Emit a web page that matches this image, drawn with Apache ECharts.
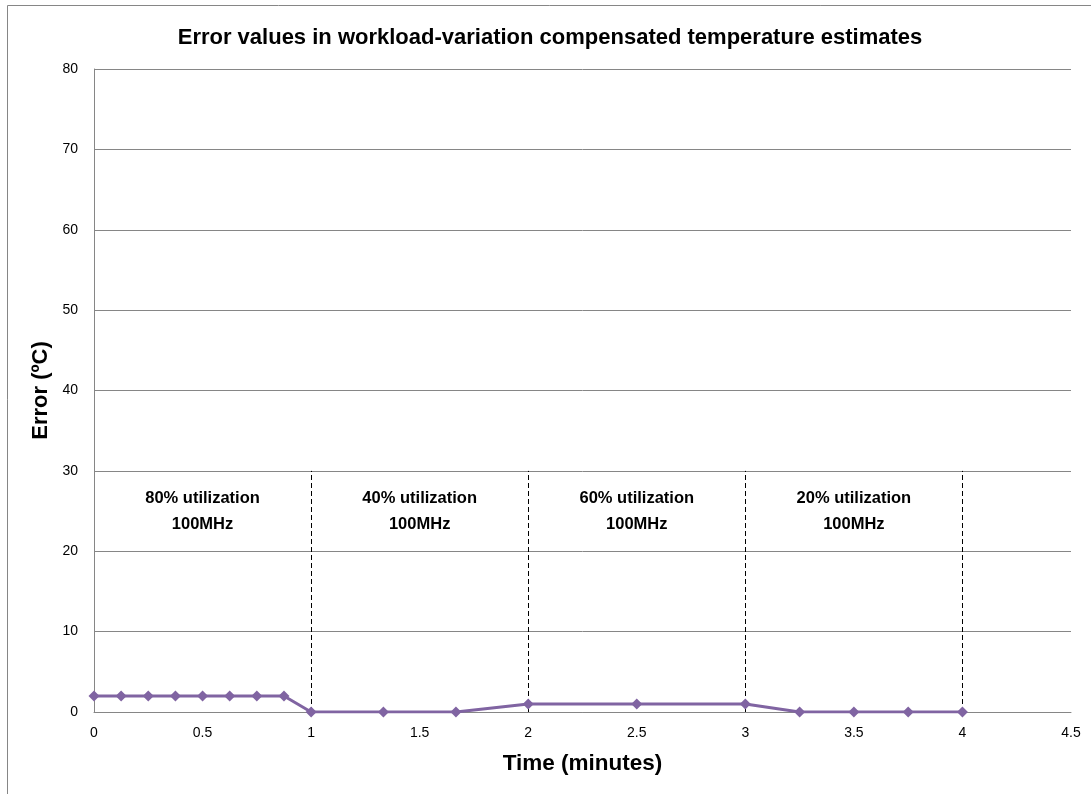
<!DOCTYPE html>
<html>
<head>
<meta charset="utf-8">
<script src="https://cdn.jsdelivr.net/npm/echarts@6/dist/echarts.min.js"></script>
<style>html,body{margin:0;padding:0;background:#fff;}#c{width:1091px;height:794px;}</style>
</head>
<body>
<div id="c"></div>
<script>
const timeMinutes = [0, 0.125, 0.25, 0.375, 0.5, 0.625, 0.75, 0.875, 1, 1.333, 1.667, 2, 2.5, 3, 3.25, 3.5, 3.75, 4];
const errorValues = [2, 2, 2, 2, 2, 2, 2, 2, 0, 0, 0, 1, 1, 1, 0, 0, 0, 0];
const phaseBoundaries = [1, 2, 3, 4];
const phaseLabels = ['80% utilization\n100MHz', '40% utilization\n100MHz', '60% utilization\n100MHz', '20% utilization\n100MHz'];
const phaseLineTop = 30;
const yTicks = [0, 10, 20, 30, 40, 50, 60, 70, 80];
const xTicks = [0, 0.5, 1, 1.5, 2, 2.5, 3, 3.5, 4, 4.5];

const FONT = 'Liberation Sans';
const chart = echarts.init(document.getElementById('c'), null, {renderer: 'canvas'});
const data = timeMinutes.map((t, i) => [t, errorValues[i]]);

chart.setOption({
  animation: false,
  backgroundColor: '#fff',
  title: {
    text: 'Error values in workload-variation compensated temperature estimates',
    left: 545, top: 22, textAlign: 'center',
    textStyle: {fontFamily: FONT, fontSize: 22, fontWeight: 'bold', color: '#000'}
  },
  grid: {left: 94, right: 20, top: 69, bottom: 82},
  xAxis: {
    type: 'value', min: 0, max: 4.5, interval: 0.5,
    name: 'Time (minutes)', nameLocation: 'middle', nameGap: 40,
    nameTextStyle: {fontFamily: FONT, fontSize: 22.5, fontWeight: 'bold', color: '#000'},
    axisLine: {lineStyle: {color: '#868686', width: 1}},
    axisTick: {show: false},
    splitLine: {show: false},
    axisLabel: {fontFamily: FONT, fontSize: 14, color: '#000', margin: 14,
      formatter: v => String(v)}
  },
  yAxis: {
    type: 'value', min: 0, max: 80, interval: 10,
    name: 'Error (ºC)', nameLocation: 'middle', nameGap: 40,
    nameTextStyle: {fontFamily: FONT, fontSize: 22, fontWeight: 'bold', color: '#000'},
    axisLine: {show: true, lineStyle: {color: '#868686', width: 1}},
    axisTick: {show: false},
    splitLine: {lineStyle: {color: '#868686', width: 1}},
    axisLabel: {fontFamily: FONT, fontSize: 14, color: '#000', margin: 16}
  },
  graphic: [
    {type: 'line', shape: {x1: 7.5, y1: 5.5, x2: 1091, y2: 5.5}, style: {stroke: '#868686', lineWidth: 1}},
    {type: 'line', shape: {x1: 7.5, y1: 5.5, x2: 7.5, y2: 794}, style: {stroke: '#868686', lineWidth: 1}}
  ],
  series: [{
    type: 'line',
    data: data,
    symbol: 'diamond', symbolSize: 11,
    lineStyle: {color: '#8064A2', width: 3},
    itemStyle: {color: '#8064A2'},
    z: 5,
    markLine: {
      silent: true, symbol: 'none',
      lineStyle: {color: '#000', type: [5, 3], width: 1},
      label: {show: false},
      data: phaseBoundaries.map(b => [{coord: [b, 0]}, {coord: [b, phaseLineTop]}])
    },
    markPoint: {
      silent: true, symbol: 'circle', symbolSize: 0,
      label: {show: true, position: 'inside', fontFamily: FONT, fontSize: 16.5, fontWeight: 'bold', color: '#000', lineHeight: 26, align: 'center'},
      data: phaseLabels.map((txt, i) => ({coord: [i + 0.5, 25], value: txt, label: {formatter: txt}}))
    }
  }]
});
</script>
</body>
</html>
